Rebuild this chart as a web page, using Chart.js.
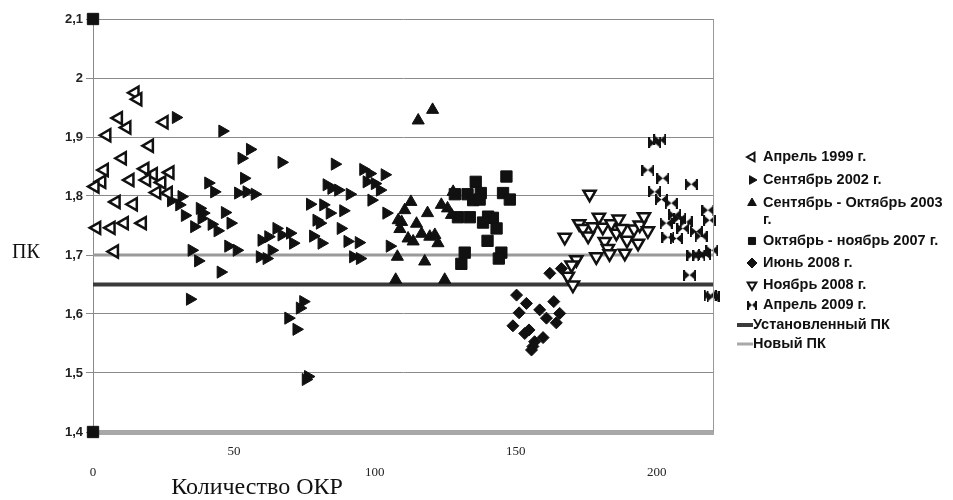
<!DOCTYPE html>
<html>
<head>
<meta charset="utf-8">
<script src="https://cdn.jsdelivr.net/npm/chart.js@4.4.0/dist/chart.umd.min.js"></script>
<style>
    html, body { margin: 0; padding: 0; background: #fff; }
    #wrap { width: 953px; height: 500px; }
</style>
</head>
<body>
<div id="wrap"><canvas id="grafico"></canvas></div>
<script>
// Ось X: количество ОКР, ось Y: ПК
const xMin = 0, xMax = 220, xStep = 50;
const yMin = 1.4, yMax = 2.1, yStep = 0.1;

// Нормативные линии
const ustanovlennyiPK = 1.65;
const novyiPK = 1.70;

// Серии (x = номер ОКР, y = ПК)
const aprel1999 = [
    [14.9, 1.975], [15.9, 1.964], [9.0, 1.932], [12.0, 1.916], [4.9, 1.903], [25.2, 1.925],
    [20.0, 1.885], [10.4, 1.864], [4.0, 1.844], [18.4, 1.846], [21.4, 1.837], [27.3, 1.840],
    [3.1, 1.824], [0.7, 1.816], [13.1, 1.827], [19.0, 1.827], [24.4, 1.823], [22.6, 1.806],
    [26.7, 1.805], [8.2, 1.790], [14.3, 1.786], [1.3, 1.746], [6.4, 1.746], [11.1, 1.754],
    [17.5, 1.754], [7.6, 1.706]
];
const sentyabr2002 = [
    [29.4, 1.933], [45.9, 1.910], [52.7, 1.864], [55.7, 1.879], [66.9, 1.857], [53.6, 1.830],
    [40.9, 1.822], [43.0, 1.807], [51.5, 1.805], [54.5, 1.807], [57.4, 1.803], [31.4, 1.799],
    [27.7, 1.792], [30.6, 1.785], [32.6, 1.767], [37.9, 1.779], [39.1, 1.771], [38.5, 1.762],
    [46.8, 1.772], [42.1, 1.752], [44.2, 1.741], [48.8, 1.754], [35.9, 1.748], [35.0, 1.708],
    [37.3, 1.690], [48.0, 1.715], [51.0, 1.708], [45.3, 1.671], [34.4, 1.625],
    [85.8, 1.854], [95.9, 1.845], [98.2, 1.838], [97.1, 1.824], [100.0, 1.821], [101.8, 1.810],
    [103.5, 1.836], [82.9, 1.819], [84.6, 1.813], [87.0, 1.810], [91.1, 1.803], [98.8, 1.793],
    [77.0, 1.786], [81.7, 1.785], [84.0, 1.771], [88.8, 1.775], [104.1, 1.771], [79.3, 1.759],
    [80.5, 1.754], [87.9, 1.745],
    [65.1, 1.745], [62.2, 1.731], [59.8, 1.725], [66.9, 1.734], [69.9, 1.737], [71.0, 1.720],
    [78.1, 1.732], [81.1, 1.720], [90.3, 1.723], [94.3, 1.721], [59.2, 1.697], [61.6, 1.694],
    [63.4, 1.708], [92.3, 1.697], [94.7, 1.694], [105.3, 1.715],
    [74.6, 1.621], [73.4, 1.610], [69.3, 1.593], [72.2, 1.574], [76.3, 1.494], [75.5, 1.489]
];
const sentOkt2003 = [
    [115.4, 1.928], [120.5, 1.946], [112.8, 1.790], [110.6, 1.776], [109.5, 1.756], [108.9, 1.744],
    [114.8, 1.753], [118.7, 1.771], [123.6, 1.785], [125.8, 1.779], [127.2, 1.768], [116.6, 1.736],
    [111.8, 1.728], [113.6, 1.723], [119.5, 1.731], [121.3, 1.734], [122.4, 1.720], [108.0, 1.697],
    [117.7, 1.689], [127.8, 1.807], [108.3, 1.759], [107.4, 1.658], [124.8, 1.658]
];
const oktNoyab2007 = [
    [0, 2.1], [0, 1.4],
    [135.8, 1.824], [146.7, 1.833], [128.4, 1.803], [132.9, 1.803], [134.9, 1.793], [137.6, 1.805],
    [137.2, 1.794], [145.5, 1.805], [147.9, 1.794], [129.5, 1.764], [133.7, 1.764], [140.2, 1.765],
    [141.9, 1.763], [138.4, 1.755], [143.2, 1.745], [140.0, 1.724], [131.9, 1.704], [144.9, 1.704],
    [130.7, 1.685], [144.0, 1.694]
];
const iyun2008 = [
    [162.1, 1.669], [166.2, 1.677], [150.3, 1.632], [153.8, 1.618], [151.2, 1.602], [158.5, 1.607],
    [163.5, 1.621], [165.6, 1.601], [160.9, 1.593], [164.4, 1.585], [149.0, 1.580], [154.7, 1.573],
    [153.2, 1.567], [159.7, 1.560], [156.7, 1.553], [156.1, 1.545], [155.6, 1.539]
];
const noyabr2008 = [
    [176.2, 1.803], [167.4, 1.730], [172.5, 1.753], [173.9, 1.745], [175.7, 1.732], [177.4, 1.748],
    [179.5, 1.764], [180.9, 1.747], [183.9, 1.753], [186.5, 1.761], [185.7, 1.737], [187.5, 1.745],
    [189.5, 1.725], [192.0, 1.744], [194.0, 1.751], [195.5, 1.765], [196.9, 1.741], [193.4, 1.720],
    [181.6, 1.723], [182.7, 1.711], [183.3, 1.702], [188.7, 1.703], [178.6, 1.697], [171.5, 1.692],
    [169.8, 1.683], [168.5, 1.664], [170.3, 1.649]
];
const aprel2009 = [
    [199.3, 1.890], [201.1, 1.895], [196.9, 1.844], [202.2, 1.830], [212.3, 1.820], [199.3, 1.807],
    [201.7, 1.794], [205.2, 1.788], [206.4, 1.768], [208.2, 1.762], [210.5, 1.756], [203.4, 1.754],
    [209.3, 1.745], [218.2, 1.776], [218.8, 1.759], [214.1, 1.740], [215.8, 1.732], [204.0, 1.730],
    [207.0, 1.728], [212.9, 1.700], [215.0, 1.700], [217.0, 1.701], [219.6, 1.708], [211.7, 1.666],
    [219.0, 1.632], [220.0, 1.629]
];

function toXY(arr) {
    return arr.map(p => ({ x: p[0], y: p[1] }));
}

// Маркер "бабочка" для апреля 2009
function makeBowtie(w, h) {
    const c = document.createElement('canvas');
    c.width = w; c.height = h;
    const g = c.getContext('2d');
    g.fillStyle = '#111';
    g.beginPath(); g.moveTo(0, 0); g.lineTo(w / 2, h / 2); g.lineTo(0, h); g.closePath(); g.fill();
    g.beginPath(); g.moveTo(w, 0); g.lineTo(w / 2, h / 2); g.lineTo(w, h); g.closePath(); g.fill();
    g.fillRect(0, 0, 2, h);
    g.fillRect(w - 2, 0, 2, h);
    return c;
}
const bowtie = makeBowtie(13, 11);
const bowtieSmall = makeBowtie(10, 9);

const series = [
    { label: "Апрель 1999 г.", data: aprel1999, pointStyle: 'triangle', rotation: -90, radius: 7, bg: '#fff', bw: 2.5 },
    { label: "Сентябрь 2002 г.", data: sentyabr2002, pointStyle: 'triangle', rotation: 90, radius: 7, bg: '#111', bw: 1 },
    { label: "Сентябрь - Октябрь 2003 г.", data: sentOkt2003, pointStyle: 'triangle', rotation: 0, radius: 7, bg: '#111', bw: 1 },
    { label: "Октябрь - ноябрь 2007 г.", data: oktNoyab2007, pointStyle: 'rect', rotation: 0, radius: 8, bg: '#111', bw: 1 },
    { label: "Июнь 2008 г.", data: iyun2008, pointStyle: 'rectRot', rotation: 0, radius: 6, bg: '#111', bw: 1 },
    { label: "Ноябрь 2008 г.", data: noyabr2008, pointStyle: 'triangle', rotation: 180, radius: 7, bg: '#fff', bw: 2.5 },
    { label: "Апрель 2009 г.", data: aprel2009, pointStyle: bowtie, rotation: 0, radius: 7, bg: '#111', bw: 1 }
];

const datasets = series.map(s => ({
    type: 'scatter',
    label: s.label,
    data: toXY(s.data),
    pointStyle: s.pointStyle,
    rotation: s.rotation,
    pointRadius: s.radius,
    backgroundColor: s.bg,
    borderColor: '#111',
    borderWidth: s.bw,
    clip: false,
    order: 1
}));

datasets.push({
    type: 'line',
    label: "Установленный ПК",
    data: [{ x: xMin, y: ustanovlennyiPK }, { x: xMax, y: ustanovlennyiPK }],
    borderColor: '#3a3a3a',
    borderWidth: 4,
    pointRadius: 0,
    order: 2
});
datasets.push({
    type: 'line',
    label: "Новый ПК",
    data: [{ x: xMin, y: novyiPK }, { x: xMax, y: novyiPK }],
    borderColor: '#9a9a9a',
    borderWidth: 3,
    pointRadius: 0,
    order: 2
});

// Легенда справа, с переносом строки как в оригинале
const legendRows = [
    { text: "Апрель 1999 г.", idx: 0, y: 157 },
    { text: "Сентябрь 2002 г.", idx: 1, y: 180 },
    { text: "Сентябрь - Октябрь 2003", idx: 2, y: 203 },
    { text: "г.", idx: -1, y: 220 },
    { text: "Октябрь - ноябрь 2007 г.", idx: 3, y: 241 },
    { text: "Июнь 2008 г.", idx: 4, y: 263 },
    { text: "Ноябрь 2008 г.", idx: 5, y: 285 },
    { text: "Апрель 2009 г.", idx: 6, y: 305 },
    { text: "Установленный ПК", line: '#3a3a3a', lw: 4, y: 325 },
    { text: "Новый ПК", line: '#a8a8a8', lw: 3, y: 344 }
];

const extras = {
    id: 'extras',
    afterDraw(chart) {
        const ctx = chart.ctx;
        const area = chart.chartArea;
        ctx.save();

        // правая рамка
        ctx.strokeStyle = '#999';
        ctx.lineWidth = 1;
        ctx.beginPath();
        ctx.moveTo(area.right + 0.5, area.top);
        ctx.lineTo(area.right + 0.5, area.bottom);
        ctx.stroke();

        // подписи осей
        ctx.fillStyle = '#111';
        ctx.textAlign = 'center';
        ctx.textBaseline = 'middle';
        ctx.font = '20px "Liberation Serif", serif';
        ctx.fillText("ПК", 26, 253);
        ctx.font = '24px "Liberation Serif", serif';
        ctx.fillText("Количество ОКР", 257, 488);

        // легенда
        ctx.font = 'bold 14.5px "Liberation Sans", Arial, sans-serif';
        ctx.textAlign = 'left';
        legendRows.forEach(row => {
            const mx = 752;
            const y = row.y;
            if (row.idx >= 0) {
                const s = series[row.idx];
                ctx.fillStyle = s.bg;
                ctx.strokeStyle = '#111';
                ctx.lineWidth = Math.min(s.bw, 2);
                const style = s.pointStyle === bowtie ? bowtieSmall : s.pointStyle;
                Chart.helpers.drawPoint(ctx, {
                    pointStyle: style, rotation: s.rotation, radius: 5, borderWidth: Math.min(s.bw, 2)
                }, mx, y);
            } else if (row.line) {
                ctx.strokeStyle = row.line;
                ctx.lineWidth = row.lw;
                ctx.beginPath();
                ctx.moveTo(737, y);
                ctx.lineTo(753, y);
                ctx.stroke();
            }
            ctx.fillStyle = '#111';
            const tx = row.line ? 753 : 763;
            ctx.fillText(row.text, tx, y);
        });
        ctx.restore();
    }
};

const ctx = document.getElementById("grafico").getContext("2d");
const myChart = new Chart(ctx, {
    type: 'scatter',
    data: { datasets: datasets },
    options: {
        responsive: true,
        maintainAspectRatio: false,
        animation: false,
        layout: { padding: { left: 0, top: 19, right: 240, bottom: 0 } },
        plugins: {
            legend: { display: false },
            tooltip: { enabled: false }
        },
        scales: {
            x: {
                type: 'linear',
                min: xMin,
                max: xMax,
                grid: { display: false, drawTicks: false },
                border: { display: true, color: '#a8a8a8', width: 5 },
                ticks: {
                    stepSize: xStep,
                    includeBounds: false,
                    maxRotation: 0,
                    padding: 10,
                    color: '#222',
                    font: { family: '"Liberation Serif", serif', size: 13, lineHeight: 1.55 },
                    callback: function(value) {
                        return value % 100 === 0 ? ['', String(value)] : String(value);
                    }
                },
                afterFit: function(axis) { axis.height = 68; }
            },
            y: {
                min: yMin,
                max: yMax,
                grid: { color: '#8a8a8a', lineWidth: 1, drawTicks: true, tickLength: 7 },
                border: { display: true, color: '#8a8a8a', width: 1 },
                ticks: {
                    stepSize: yStep,
                    padding: 3,
                    color: '#222',
                    font: { family: '"Liberation Sans", Arial, sans-serif', size: 13, weight: 'bold' },
                    callback: function(value) {
                        return String(Number(value.toFixed(1))).replace('.', ',');
                    }
                },
                afterFit: function(axis) { axis.width = 93; }
            }
        }
    },
    plugins: [extras]
});
</script>
</body>
</html>
